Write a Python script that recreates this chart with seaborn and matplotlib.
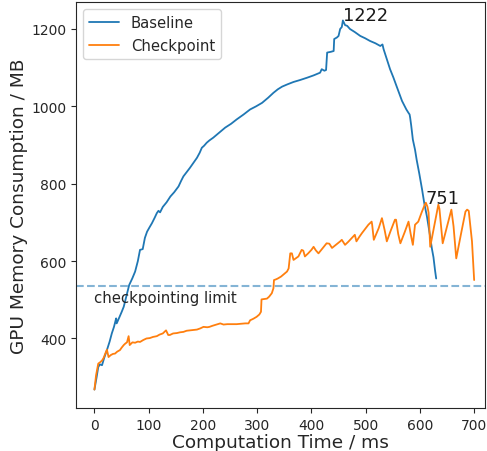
import numpy as np
import pandas as pd
import seaborn as sns
from matplotlib import pyplot as plt

# memory trace (ms, MB)
baseline_ms = [0, 4, 7, 10, 14, 18, 23, 28, 32, 36, 40, 41, 46, 50, 54, 59, 64, 70, 75, 80,
               84, 89, 93, 97, 101, 106, 111, 115, 118, 121, 126, 133, 140, 147, 155, 160, 164, 170, 176, 182,
               189, 194, 198, 202, 207, 212, 219, 230, 241, 252, 262, 275, 287, 298, 309, 320, 330, 338, 346, 356,
               367, 379, 392, 404, 416, 419, 424, 427, 429, 436, 441, 442, 447, 450, 453, 456, 458, 462, 466, 471,
               480, 490, 499, 508, 518, 527, 531, 533, 539, 545, 551, 557, 562, 567, 571, 575, 579, 581, 582, 584,
               587, 591, 594, 599, 604, 608, 613, 616, 619, 622, 625, 628, 630]
baseline_mb = [268, 300, 326, 333, 331, 350, 370, 392, 413, 430, 452, 439, 455, 468, 482, 510, 538, 556, 573, 600,
               629, 631, 660, 676, 686, 698, 712, 724, 730, 726, 740, 752, 767, 778, 793, 808, 819, 830, 841, 853,
               867, 880, 893, 898, 906, 912, 919, 932, 945, 955, 966, 979, 992, 1000, 1009, 1022, 1035, 1044, 1051, 1057,
               1063, 1068, 1074, 1080, 1087, 1096, 1092, 1094, 1139, 1141, 1143, 1174, 1178, 1182, 1200, 1205, 1222, 1210, 1208, 1200,
               1192, 1182, 1176, 1169, 1163, 1156, 1160, 1148, 1122, 1096, 1075, 1052, 1033, 1014, 1003, 992, 983, 979, 971, 950,
               914, 888, 862, 825, 785, 750, 715, 689, 662, 633, 610, 575, 555]

checkpoint_ms = [0, 3, 7, 10, 14, 17, 20, 23, 26, 30, 34, 38, 42, 47, 50, 54, 57, 60, 63, 65,
                 70, 75, 80, 84, 90, 96, 102, 108, 115, 120, 126, 132, 136, 139, 145, 152, 158, 164, 170, 176,
                 183, 189, 195, 201, 208, 212, 218, 225, 232, 238, 245, 252, 262, 270, 278, 284, 287, 293, 299, 304,
                 307, 308, 313, 318, 322, 327, 330, 331, 335, 338, 344, 350, 355, 358, 361, 364, 367, 372, 376, 382,
                 385, 388, 394, 400, 404, 408, 413, 420, 428, 433, 438, 445, 453, 456, 462, 468, 474, 480, 483, 488,
                 493, 499, 505, 511, 512, 515, 520, 524, 530, 535, 539, 546, 554, 556, 560, 564, 572, 579, 583, 587,
                 591, 597, 603, 609, 611, 614, 616, 619, 627, 634, 636, 642, 650, 658, 662, 667, 676, 684, 687, 690,
                 696, 700]
checkpoint_mb = [268, 305, 335, 338, 343, 350, 361, 371, 352, 357, 360, 361, 366, 370, 376, 383, 387, 390, 406, 383,
                 390, 389, 392, 391, 396, 400, 401, 404, 406, 410, 413, 421, 409, 409, 413, 414, 416, 417, 420, 421,
                 422, 423, 426, 430, 429, 430, 433, 436, 439, 436, 437, 437, 437, 438, 439, 439, 447, 451, 456, 462,
                 469, 501, 502, 503, 508, 517, 530, 551, 553, 555, 560, 567, 573, 581, 620, 620, 603, 608, 612, 629,
                 627, 612, 620, 629, 637, 628, 620, 632, 646, 645, 634, 642, 651, 655, 642, 650, 659, 668, 651, 662,
                 672, 683, 694, 702, 694, 655, 672, 685, 711, 680, 651, 678, 707, 707, 670, 646, 675, 702, 670, 642,
                 694, 702, 725, 746, 751, 740, 725, 637, 695, 746, 735, 646, 690, 733, 690, 607, 672, 728, 733, 730,
                 651, 551]

checkpoint_limit = 536

df = pd.concat([
    pd.DataFrame({'time': baseline_ms, 'mem': baseline_mb, 'run': 'Baseline'}),
    pd.DataFrame({'time': checkpoint_ms, 'mem': checkpoint_mb, 'run': 'Checkpoint'}),
])

sns.set_style("ticks")
plt.rcParams['font.family'] = ['DejaVu Sans']

fig = plt.figure(figsize=(4.87, 4.52), dpi=100)
ax = fig.add_axes([76 / 487, 43 / 452, 409 / 487, 406 / 452])

sns.lineplot(data=df, x='time', y='mem', hue='run', estimator=None, sort=False,
             palette=['C0', 'C1'], lw=1.3, ax=ax)

ax.axhline(checkpoint_limit, ls='--', color='C0', alpha=0.55, lw=1.5)
ax.text(0, 495, 'checkpointing limit', fontsize=10.7, color='.15')

# peak labels
i = int(np.argmax(baseline_mb))
ax.text(baseline_ms[i], baseline_mb[i], str(baseline_mb[i]), fontsize=12.8, color='.1')
j = int(np.argmax(checkpoint_mb))
ax.text(checkpoint_ms[j], checkpoint_mb[j], str(checkpoint_mb[j]), fontsize=12.8, color='.1')

ax.set_xlim(-34, 720)
ax.set_xticks(range(0, 701, 100))
ax.set_yticks(range(400, 1201, 200))
ax.tick_params(labelsize=10)
ax.set_xlabel('Computation Time / ms', fontsize=13.3, labelpad=1)
ax.set_ylabel('GPU Memory Consumption / MB', fontsize=13.3, labelpad=2)
ax.legend(loc='upper left', fontsize=10.7, title=None)

plt.savefig('out.png', dpi=100)
